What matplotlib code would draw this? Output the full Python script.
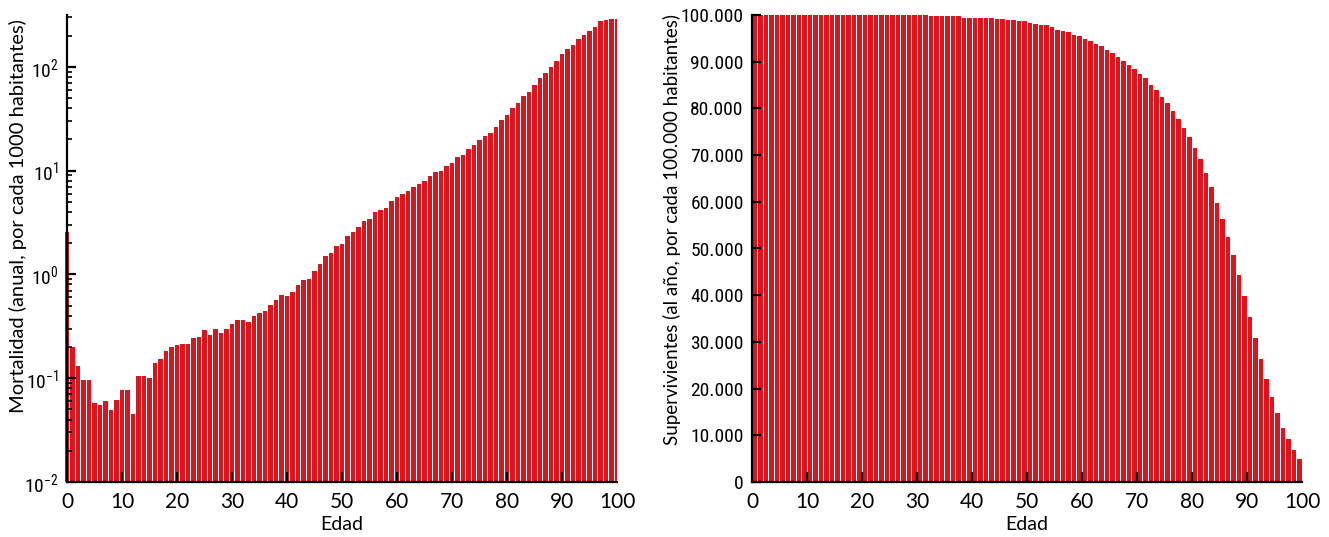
import matplotlib
matplotlib.use('Agg')
import matplotlib.pyplot as plt
import matplotlib.ticker as mticker
import numpy as np

# mortality per 1000 inhabitants, ages 0..100
mortAges = list(range(0, 101))
mortality = [2.55, 0.20, 0.13, 0.097, 0.097, 0.058, 0.055, 0.060, 0.049, 0.062,
             0.077, 0.077, 0.045, 0.105, 0.105, 0.101, 0.141, 0.154, 0.183, 0.200,
             0.210, 0.216, 0.216, 0.246, 0.252, 0.293, 0.260, 0.300, 0.274, 0.300,
             0.336, 0.365, 0.365, 0.347, 0.402, 0.423, 0.443, 0.510, 0.569, 0.636,
             0.621, 0.675, 0.788, 0.885, 0.906, 1.08, 1.25, 1.49, 1.62, 1.88,
             1.98, 2.35, 2.56, 2.84, 3.25, 3.44, 3.97, 4.21, 4.37, 5.10,
             5.53, 5.99, 6.37, 7.00, 7.47, 7.99, 8.81, 9.61, 9.90, 11.1,
             11.8, 13.6, 14.3, 16.2, 17.6, 19.7, 21.8, 23.1, 26.6, 30.6,
             34.2, 39.9, 44.7, 52.1, 57.7, 66.4, 78.1, 87.2, 100.6, 113,
             132, 149, 164, 185, 203, 222, 244, 274, 280, 289, 292]

# survivors per 100.000 inhabitants, ages 0..99
survAges = list(range(0, 100))
survivors = [100000, 99960, 99950, 99950, 99950, 99950, 99950, 99950, 99950, 99950,
             99950, 99950, 99950, 99950, 99950, 99950, 99940, 99940, 99940, 99940,
             99940, 99930, 99930, 99930, 99930, 99920, 99920, 99920, 99910, 99910,
             99900, 99900, 99800, 99800, 99790, 99790, 99780, 99780, 99460, 99450,
             99440, 99430, 99420, 99400, 99140, 99140, 98930, 98930, 98640, 98640,
             98360, 98070, 97860, 97860, 97500, 96790, 96570, 96290, 95790, 95500,
             94930, 94360, 93790, 93290, 92430, 91930, 90930, 90150, 89290, 88440,
             87370, 86510, 85010, 83940, 82510, 81160, 79370, 77730, 75800, 73880,
             71590, 69100, 66240, 63170, 59810, 56320, 52390, 48540, 44330, 39830,
             35270, 30840, 26340, 22130, 18200, 14780, 11630, 9210, 6850, 4930]

xTicks = [10, 20, 30, 40, 50, 60, 70, 80, 90]
xEnds = [0, 100]
survTicks = list(range(0, 100001, 10000))

RED = '#d7171f'
narrow = ['Roboto Condensed', 'Roboto', 'DejaVu Sans']
geo = ['Lato', 'DejaVu Sans']
plt.rcParams['mathtext.default'] = 'regular'

W, H = 1329, 537
fig = plt.figure(figsize=(W / 100, H / 100), dpi=100)

def axRect(x0, x1, y0, y1):
    return [x0 / W, 1 - y1 / H, (x1 - x0) / W, (y1 - y0) / H]

def styleAxes(ax):
    for s in ['top', 'right']:
        ax.spines[s].set_visible(False)
    for s in ['left', 'bottom']:
        ax.spines[s].set_linewidth(1.6)
    ax.set_xlim(0, 100)
    ax.set_xticks(xTicks)
    ax.set_xticks(xEnds, labels=[str(v) for v in xEnds], minor=True)
    ax.tick_params(axis='x', which='both', direction='in', length=7, width=1.6,
                   pad=7, labelsize=15)
    ax.tick_params(axis='x', which='minor', length=0)
    for lab in ax.get_xticklabels() + ax.get_xticklabels(minor=True):
        lab.set_family(geo)
    ax.tick_params(axis='y', which='major', direction='in', length=6.5,
                   width=1.6, pad=6, labelsize=14)
    ax.set_xlabel('Edad', fontsize=14, family=geo, va='center')
    ax.xaxis.set_label_coords(0.5, -0.092)

# left: mortality, log scale
ax1 = fig.add_axes(axRect(67, 617, 15, 482))
ax1.set_yscale('log')
yMin = 0.01
bars1 = ax1.bar(mortAges, np.array(mortality) - yMin, bottom=yMin, width=0.8,
                color=RED, align='center')
bars1.patches[0].set_clip_on(False)
ax1.set_ylim(yMin, 316)
styleAxes(ax1)
ax1.tick_params(axis='y', which='minor', direction='in', length=3.5, width=1.2)
for lab in ax1.get_yticklabels():
    lab.set_family(narrow)
ax1.set_ylabel('Mortalidad (anual, por cada 1000 habitantes)', fontsize=14.5,
               family=geo, va='center')
ax1.yaxis.set_label_coords(-0.089, 0.57)

# right: survivors
ax2 = fig.add_axes(axRect(752, 1302, 15, 482))
ax2.bar(np.array(survAges) + 0.55, survivors, width=0.8, color=RED)
ax2.set_ylim(0, 100000)
ax2.set_yticks(survTicks)
ax2.yaxis.set_major_formatter(mticker.FuncFormatter(
    lambda v, p: f'{int(v):,}'.replace(',', '.')))
styleAxes(ax2)
for lab in ax2.get_yticklabels():
    lab.set_family(narrow)
ax2.set_ylabel('Supervivientes (al año, por cada 100.000 habitantes)',
               fontsize=13.5, family=geo, va='center')
ax2.yaxis.set_label_coords(-0.145, 0.54)

fig.savefig('out.png', dpi=100)
